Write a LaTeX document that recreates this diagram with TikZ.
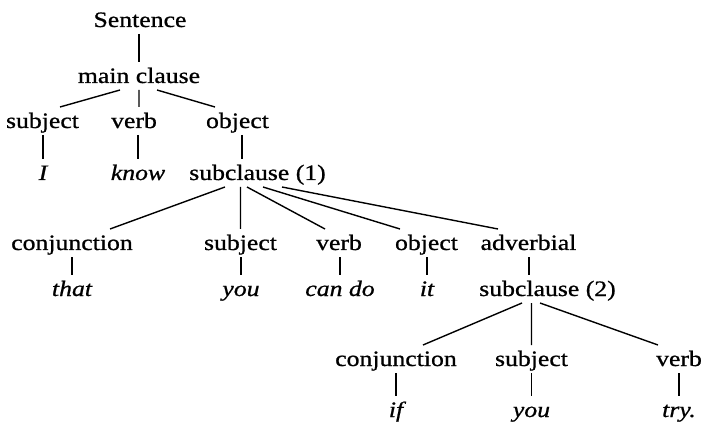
\documentclass[tikz,border=0pt]{standalone}
\usepackage{fontspec}
\setmainfont{Liberation Serif}[FakeStretch=1.17,FakeBold=0.8]
\tikzset{
  lbl/.style={inner sep=0pt,outer sep=0pt,text height=21pt,text depth=7pt,anchor=base},
  wd/.style={lbl,font=\fontsize{22pt}{24pt}\selectfont\itshape},
}
\begin{document}
\begin{tikzpicture}[x=1pt,y=-1pt,line width=1.4pt,font=\fontsize{22pt}{24pt}\selectfont]
			\useasboundingbox (0,0) rectangle (704,422) ;
			% main clause
			\node[lbl] (s) at (140,27) {Sentence} ;
			\node[lbl] (mc) at (139,83) {main clause} ;
			\node[lbl] (subj) at (42.5,128) {subject} ;
			\node[lbl] (vb) at (134,128) {verb} ;
			\node[lbl] (obj) at (237.5,128) {object} ;
			\node[wd] (i) at (43,180) {I} ;
			\node[wd] (kn) at (138,180) {know} ;
			\node[lbl] (sc1) at (257.5,180) {subclause (1)} ;
			% subclause (1)
			\node[lbl] (conj) at (72,250) {conjunction} ;
			\node[lbl] (subj2) at (240.5,250) {subject} ;
			\node[lbl] (vb2) at (339,250) {verb} ;
			\node[lbl] (obj2) at (426.5,250) {object} ;
			\node[lbl] (adv) at (528.5,250) {adverbial} ;
			\node[wd] (that) at (72,296) {that} ;
			\node[wd] (you) at (241,296) {you} ;
			\node[wd] (cando) at (340,296) {can do} ;
			\node[wd] (it) at (427,296) {it} ;
			\node[lbl] (sc2) at (547.5,296) {subclause (2)} ;
			% subclause (2)
			\node[lbl] (conj3) at (396,366) {conjunction} ;
			\node[lbl] (subj3) at (531.5,366) {subject} ;
			\node[lbl] (vb3) at (679,366) {verb} ;
			\node[wd] (if) at (396,417) {if} ;
			\node[wd] (you3) at (531.5,417) {you} ;
			\node[wd] (try) at (679,417) {try.} ;
			% branches
			\draw (mc.north |- s.south)--(mc.north) ;
			\draw ([xshift=-19pt]mc.south)--([xshift=17.5pt]subj.north) (mc.south)--(mc.south |- vb.north)
				([xshift=18pt]mc.south)--([xshift=-22.5pt]obj.north) ;
			\draw (i.north |- subj.south)--(i.north) (kn.north |- vb.south)--(kn.north)
				([xshift=4.5pt]obj.south)--([xshift=-15.5pt]sc1.north) ;
			\draw ([xshift=-32.5pt]sc1.south)--([xshift=38pt]conj.north)
				(subj2.north |- sc1.south)--(subj2.north)
				([xshift=-10.5pt]sc1.south)--([xshift=-14pt]vb2.north)
				([xshift=5.5pt]sc1.south)--([xshift=-26.5pt]obj2.north)
				([xshift=24.5pt]sc1.south)--([xshift=-30.5pt]adv.north) ;
			\draw (that.north |- conj.south)--(that.north) (you.north |- subj2.south)--(you.north)
				(cando.north |- vb2.south)--(cando.north) (it.north |- obj2.south)--(it.north)
				([xshift=0.5pt]adv.south)--([xshift=-18.5pt]sc2.north) ;
			\draw ([xshift=-25.5pt]sc2.south)--([xshift=27pt]conj3.north)
				(subj3.north |- sc2.south)--(subj3.north)
				([xshift=-7.5pt]sc2.south)--([xshift=-21pt]vb3.north) ;
			\draw (if.north |- conj3.south)--(if.north) (you3.north |- subj3.south)--(you3.north)
				(try.north |- vb3.south)--(try.north) ;
		\end{tikzpicture}
\end{document}
